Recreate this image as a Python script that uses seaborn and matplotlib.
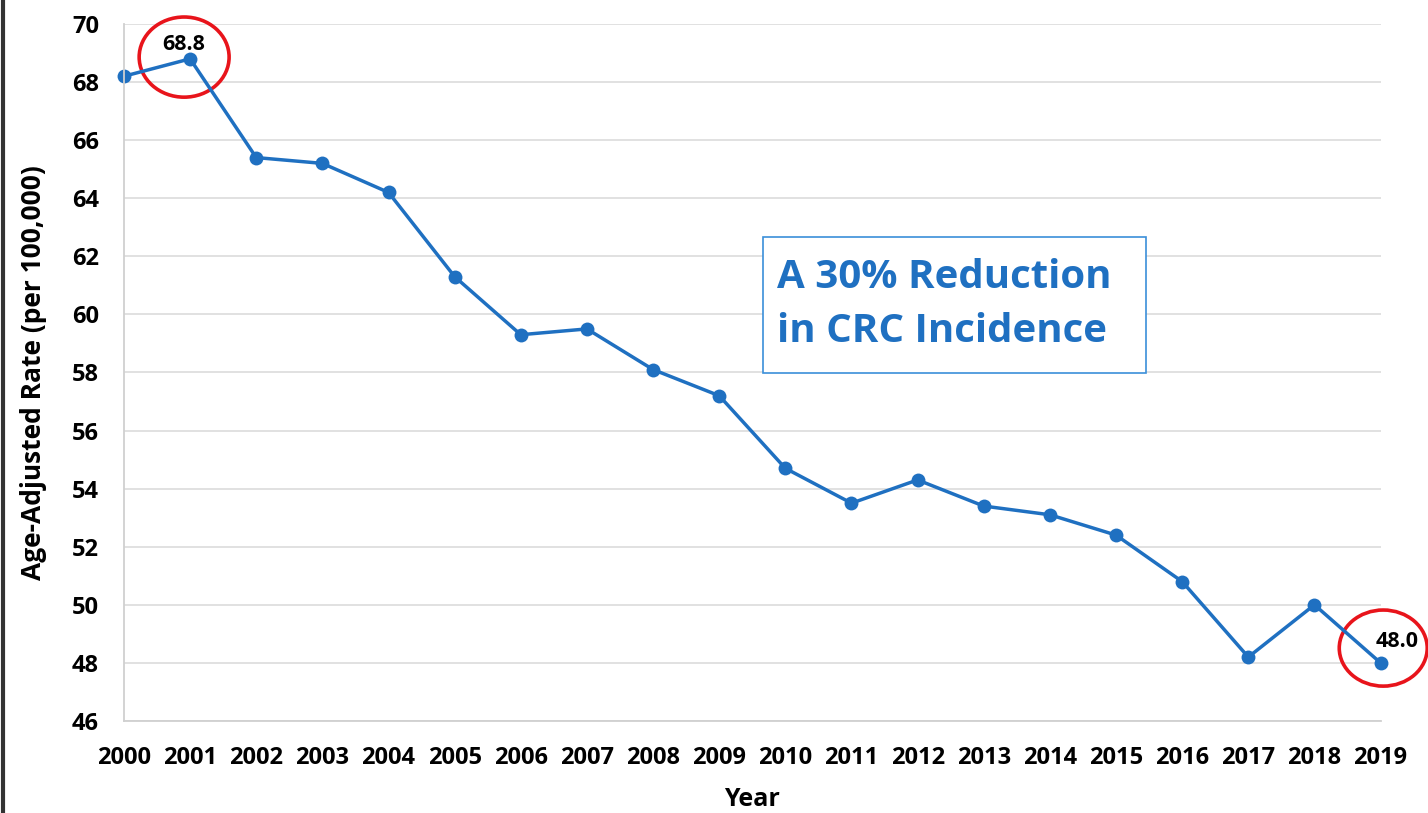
import pandas as pd
import numpy as np
import matplotlib
matplotlib.use('Agg')
import matplotlib.pyplot as plt
from matplotlib.patches import Ellipse, Rectangle
from matplotlib.lines import Line2D
import seaborn as sns

# Data
years = list(range(2000, 2020))
rates = [68.2, 68.8, 65.4, 65.2, 64.2, 61.3, 59.3, 59.5, 58.1, 57.2,
         54.7, 53.5, 54.3, 53.4, 53.1, 52.4, 50.8, 48.2, 50.0, 48.0]
y_ticks = list(range(46, 71, 2))
callout_years = [2001, 2019]
callout_labels = ['68.8', '48.0']
note_text = 'A 30% Reduction\nin CRC Incidence'

df = pd.DataFrame({'Year': years, 'Rate': rates})

sns.set_style('white')
plt.rcParams['font.family'] = ['Open Sans', 'DejaVu Sans']
plt.rcParams['text.color'] = 'black'
plt.rcParams['axes.labelcolor'] = 'black'
plt.rcParams['xtick.labelcolor'] = 'black'
plt.rcParams['ytick.labelcolor'] = 'black'

blue = '#1F70C1'
fig = plt.figure(figsize=(14.28, 8.13), dpi=100)
ax = fig.add_axes([0.0868, 0.1132, 0.880, 0.8573])

sns.lineplot(data=df, x='Year', y='Rate', color=blue, linewidth=2.5,
             marker='o', markersize=10, markeredgewidth=0, ax=ax,
             clip_on=False)

ax.set_xlim(2000, 2019)
ax.set_ylim(46, 70)
ax.set_xticks(years)
ax.set_yticks(y_ticks)
ax.set_xticklabels([str(y) for y in years], fontsize=17, fontweight='bold')
ax.set_yticklabels([str(v) for v in y_ticks], fontsize=17, fontweight='bold')
ax.yaxis.grid(True, color='#dedede', linewidth=1.3)
ax.set_axisbelow(True)

for side in ['top', 'right']:
    ax.spines[side].set_visible(False)
for side in ['left', 'bottom']:
    ax.spines[side].set_color('#d0d0d0')
    ax.spines[side].set_linewidth(1.3)
ax.tick_params(axis='x', direction='inout', length=16, width=1.3,
               color='#d0d0d0', pad=10)
ax.tick_params(axis='y', length=0, pad=18)

ax.set_xlabel('Year', fontsize=18, fontweight='bold', labelpad=12)
ax.set_ylabel('Age-Adjusted Rate (per 100,000)', fontsize=19,
              fontweight='bold', labelpad=18)

# Red circles and value labels
for yr, lab in zip(callout_years, callout_labels):
    val = df.loc[df['Year'] == yr, 'Rate'].iloc[0]
    if yr == 2001:
        ax.text(yr - 0.09, val + 0.5, lab, fontsize=15.5, fontweight='bold',
                ha='center', va='center', clip_on=False)
        ax.add_patch(Ellipse((yr - 0.09, val + 0.06), 1.36, 2.76,
                             fill=False, edgecolor='#e8141b', linewidth=2.6,
                             clip_on=False))
    else:
        ax.text(yr + 0.25, val + 0.75, lab, fontsize=15.5, fontweight='bold',
                ha='center', va='center', clip_on=False)
        ax.add_patch(Ellipse((yr + 0.04, val + 0.51), 1.33, 2.62,
                             fill=False, edgecolor='#e8141b', linewidth=2.6,
                             clip_on=False))

# note box
ax.add_patch(Rectangle((2009.66, 57.98), 5.79, 4.69, facecolor='white',
                       edgecolor='#3b8fd9', linewidth=1.2, zorder=4))
ax.text(2009.88, 60.34, note_text, fontsize=29, fontweight='bold',
        color=blue, ha='left', va='center', linespacing=1.5, zorder=5)

# dark border on the left edge of the screenshot
fig.add_artist(Line2D([0.002, 0.002], [0, 1], color='#333333', linewidth=3,
                      transform=fig.transFigure))

fig.savefig('out.png', dpi=100)
